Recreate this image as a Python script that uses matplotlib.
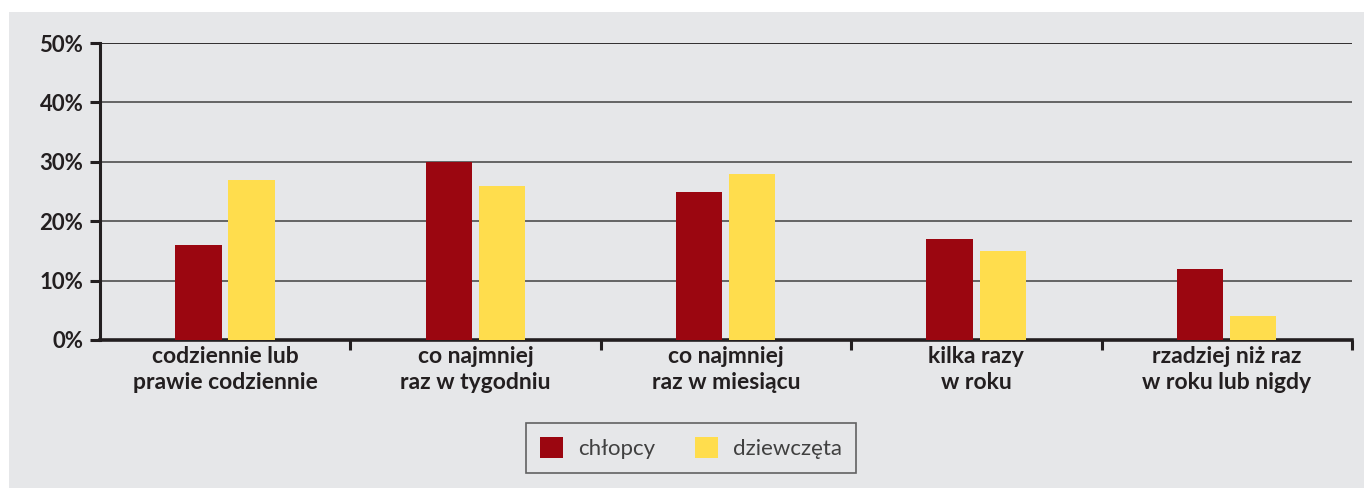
import numpy as np
import matplotlib.pyplot as plt
from matplotlib.patches import Rectangle

# dane z wykresu
kategorie = ['codziennie lub\nprawie codziennie', 'co najmniej\nraz w tygodniu',
             'co najmniej\nraz w miesiącu', 'kilka razy\nw roku',
             'rzadziej niż raz\nw roku lub nigdy']
chlopcy = [16, 30, 25, 17, 12]
dziewczeta = [27, 26, 28, 15, 4]
y_ticks = [0, 10, 20, 30, 40, 50]

tlo = '#e6e7e9'
czerwony = '#9b0610'
zolty = '#ffdd4d'

plt.rcParams['font.family'] = ['Lato', 'DejaVu Sans']

fig = plt.figure(figsize=(13.64, 4.88), dpi=100, facecolor='white')
fig.patches.append(Rectangle((9 / 1364, 0), 1 - 9 / 1364, 1 - 12 / 488,
                             transform=fig.transFigure, facecolor=tlo,
                             edgecolor='none', zorder=-10))

ax = fig.add_axes([100 / 1364, 1 - 340 / 488, 1252 / 1364, 297 / 488])
ax.set_facecolor('none')

x = np.arange(len(kategorie))
w = 0.185
ax.bar(x - 0.107, chlopcy, w, color=czerwony, label='chłopcy', zorder=3)
ax.bar(x + 0.105, dziewczeta, w, color=zolty, label='dziewczęta', zorder=3)

ax.set_xlim(-0.5, len(kategorie) - 0.5)
ax.set_ylim(0, 50)
ax.set_yticks(y_ticks)
ax.set_yticklabels([f'{v}%' for v in y_ticks], fontsize=16, fontweight='bold',
                   color='#231f20')
for v in y_ticks[1:]:
    ax.axhline(v, color='#231f20' if v == 50 else '#5a5a5a', lw=1.3, zorder=1)

# etykiety kategorii na środku, kreski na granicach grup
ax.set_xticks(x)
ax.set_xticklabels(kategorie, fontsize=16.5, fontweight='bold', color='#231f20',
                   linespacing=1.3)
ax.tick_params(axis='x', length=0, pad=4)
ax.set_xticks(np.arange(len(kategorie)) + 0.5, minor=True)
ax.tick_params(axis='x', which='minor', length=7, width=2.2, color='#231f20')
ax.tick_params(axis='y', length=7, width=2.2, color='#231f20', pad=5)

for s in ['top', 'right']:
    ax.spines[s].set_visible(False)
ax.spines['left'].set_linewidth(2.2)
ax.spines['bottom'].set_linewidth(2.6)
ax.spines['left'].set_color('#231f20')
ax.spines['bottom'].set_color('#231f20')

leg = fig.legend(loc='center', bbox_to_anchor=(691 / 1364, 1 - 448 / 488),
                 ncol=2, fontsize=16, frameon=True, fancybox=False,
                 handlelength=1.05, handleheight=1.05, columnspacing=1.8,
                 handletextpad=0.65, borderpad=0.65, borderaxespad=0)
leg.get_frame().set_edgecolor('#404040')
leg.get_frame().set_facecolor(tlo)
leg.get_frame().set_linewidth(1.2)
for t in leg.get_texts():
    t.set_color('#404040')

fig.savefig('out.png', dpi=100, facecolor='white')
